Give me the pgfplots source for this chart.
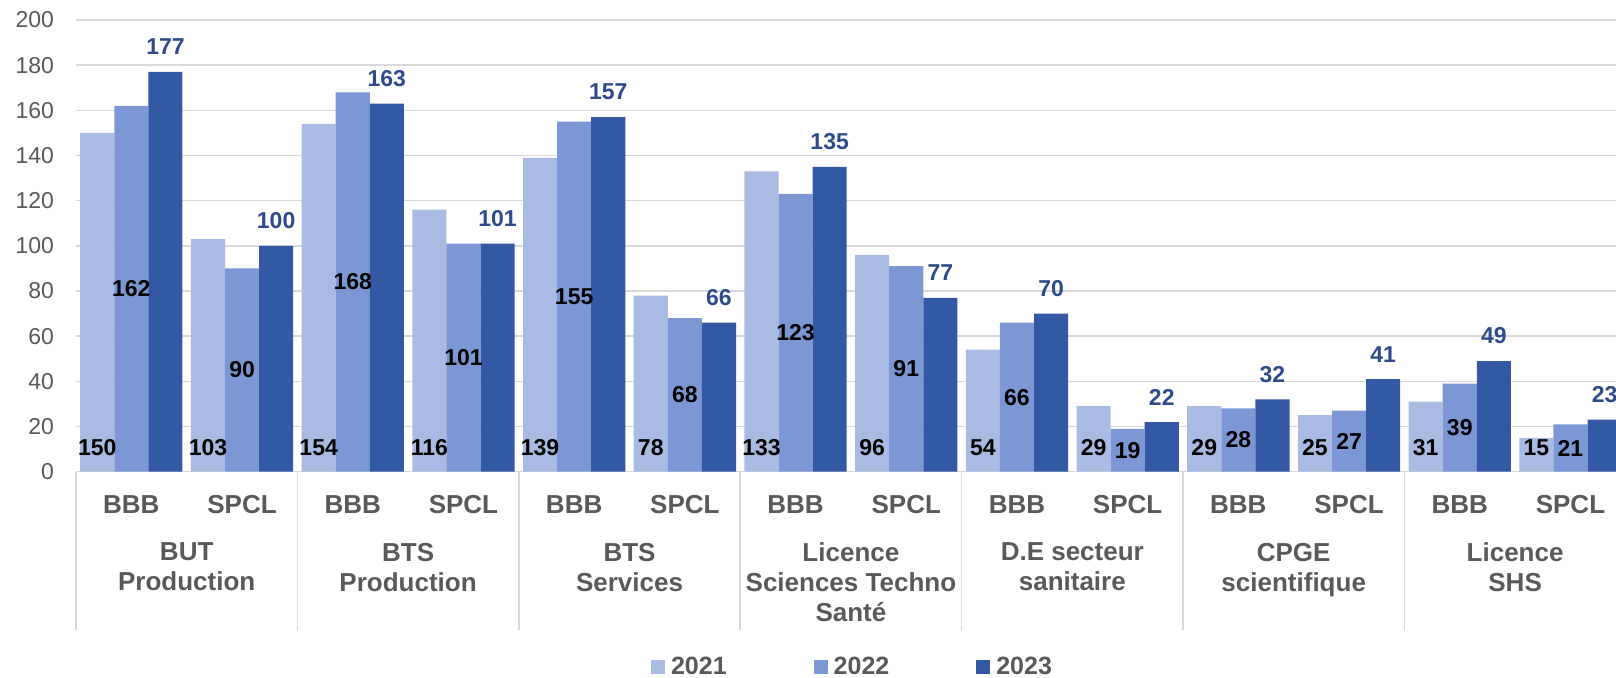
\documentclass[border=0pt]{standalone}
\usepackage{pgfplots}
\usepackage{pgfplotstable}
\pgfplotsset{compat=1.18}
\usepackage{fontspec}
\setmainfont{Liberation Sans}
\definecolor{cA}{HTML}{A9BBE3}
\definecolor{cB}{HTML}{7C98D4}
\definecolor{cC}{HTML}{3459A4}
\definecolor{cLab}{HTML}{2E4A8A}
\definecolor{cTxt}{HTML}{595959}
\definecolor{cGrid}{HTML}{D9D9D9}
\pgfplotstableread{
x a b c
0 150 162 177
1 103 90 100
2 154 168 163
3 116 101 101
4 139 155 157
5 78 68 66
6 133 123 135
7 96 91 77
8 54 66 70
9 29 19 22
10 29 28 32
11 25 27 41
12 31 39 49
13 15 21 23
}\datatable
\begin{document}
\begin{tikzpicture}
\begin{axis}[
  at={(38pt,103.15pt)}, anchor=south west,
  scale only axis, width=774.9pt, height=225.85pt,
  xmin=-0.5, xmax=13.5, ymin=0, ymax=200,
  enlargelimits=false, clip=false,
  /pgf/number format/assume math mode=true,
  axis x line*=bottom, axis y line*=left,
  y axis line style={draw=none},
  x axis line style={draw=cGrid, line width=0.75pt},
  ytick={0,20,...,200},
  ytick style={draw=none},
  major tick length=0pt,
  yticklabel style={font=\fontsize{11.5}{13}\selectfont, text=cTxt, xshift=-7.5pt},
  ymajorgrids, grid style={draw=cGrid, line width=0.75pt},
  xtick=\empty,
  legend columns=3,
  legend style={draw=none, at={(0.5004,-0.4324)}, anchor=center,
    font=\fontsize{12.5}{15}\selectfont\bfseries, text=cTxt,
    inner sep=0pt, nodes={inner sep=0pt},
    /tikz/every odd column/.append style={column sep=3pt},
    /tikz/every even column/.append style={column sep=43.5pt}},
  legend image code/.code={\fill[#1] (0pt,-3.5pt) rectangle (7pt,3.5pt);},
]
\addplot[ybar, bar width=0.308, bar shift=0pt, fill=cA, draw=none] table[x expr=\thisrow{x}-0.308, y=a]{\datatable};
\addlegendentry{2021}
\addplot[ybar, bar width=0.308, bar shift=0pt, fill=cB, draw=none] table[x=x, y=b]{\datatable};
\addlegendentry{2022}
\addplot[ybar, bar width=0.308, bar shift=0pt, fill=cC, draw=none] table[x expr=\thisrow{x}+0.308, y=c]{\datatable};
\addlegendentry{2023}
% value labels
\addplot[forget plot, draw=none, mark=none, nodes near coords, point meta=explicit,
  every node near coord/.append style={anchor=center, yshift=12pt, font=\fontsize{11.5}{13}\selectfont\bfseries, text=black}]
  table[x expr=\thisrow{x}-0.308, y expr=0, meta=a]{\datatable};
\addplot[forget plot, draw=none, mark=none, nodes near coords, point meta=explicit,
  every node near coord/.append style={anchor=center, font=\fontsize{11.5}{13}\selectfont\bfseries, text=black}]
  table[x=x, y expr=\thisrow{b}/2, meta=b]{\datatable};
\addplot[forget plot, draw=none, mark=none, nodes near coords, point meta=explicit,
  every node near coord/.append style={anchor=center, yshift=12.5pt, font=\fontsize{11.5}{13}\selectfont\bfseries, text=cLab}]
  table[x expr=\thisrow{x}+0.308, y=c, meta=c]{\datatable};
% category separators
\tikzset{sep/.style={draw=cGrid, line width=0.75pt}}
\draw[sep] (axis cs:-0.5,0) -- ([yshift=-79pt]axis cs:-0.5,0);
\draw[sep] (axis cs:1.5,0) -- ([yshift=-79pt]axis cs:1.5,0);
\draw[sep] (axis cs:3.5,0) -- ([yshift=-79pt]axis cs:3.5,0);
\draw[sep] (axis cs:5.5,0) -- ([yshift=-79pt]axis cs:5.5,0);
\draw[sep] (axis cs:7.5,0) -- ([yshift=-79pt]axis cs:7.5,0);
\draw[sep] (axis cs:9.5,0) -- ([yshift=-79pt]axis cs:9.5,0);
\draw[sep] (axis cs:11.5,0) -- ([yshift=-79pt]axis cs:11.5,0);
% sub-category labels
\tikzset{sub/.style={font=\fontsize{13}{15}\selectfont\bfseries, text=cTxt, anchor=center, yshift=-16.5pt},
  cat/.style={font=\fontsize{13}{15}\selectfont\bfseries, text=cTxt, anchor=north, align=center, inner sep=0pt, yshift=-35.5pt}}
\node[sub] at (axis cs:0,0) {BBB};
\node[sub] at (axis cs:1,0) {SPCL};
\node[sub] at (axis cs:2,0) {BBB};
\node[sub] at (axis cs:3,0) {SPCL};
\node[sub] at (axis cs:4,0) {BBB};
\node[sub] at (axis cs:5,0) {SPCL};
\node[sub] at (axis cs:6,0) {BBB};
\node[sub] at (axis cs:7,0) {SPCL};
\node[sub] at (axis cs:8,0) {BBB};
\node[sub] at (axis cs:9,0) {SPCL};
\node[sub] at (axis cs:10,0) {BBB};
\node[sub] at (axis cs:11,0) {SPCL};
\node[sub] at (axis cs:12,0) {BBB};
\node[sub] at (axis cs:13,0) {SPCL};
\node[cat] at (axis cs:0.5,0) {BUT\\Production};
\node[cat] at (axis cs:2.5,0) {BTS\\Production};
\node[cat] at (axis cs:4.5,0) {BTS\\Services};
\node[cat] at (axis cs:6.5,0) {Licence\\Sciences Techno\\Santé};
\node[cat] at (axis cs:8.5,0) {D.E secteur\\sanitaire};
\node[cat] at (axis cs:10.5,0) {CPGE\\scientifique};
\node[cat] at (axis cs:12.5,0) {Licence\\SHS};
\end{axis}
\pgfresetboundingbox
\path[use as bounding box] (0,0) rectangle (808pt,339pt);
\end{tikzpicture}
\end{document}
